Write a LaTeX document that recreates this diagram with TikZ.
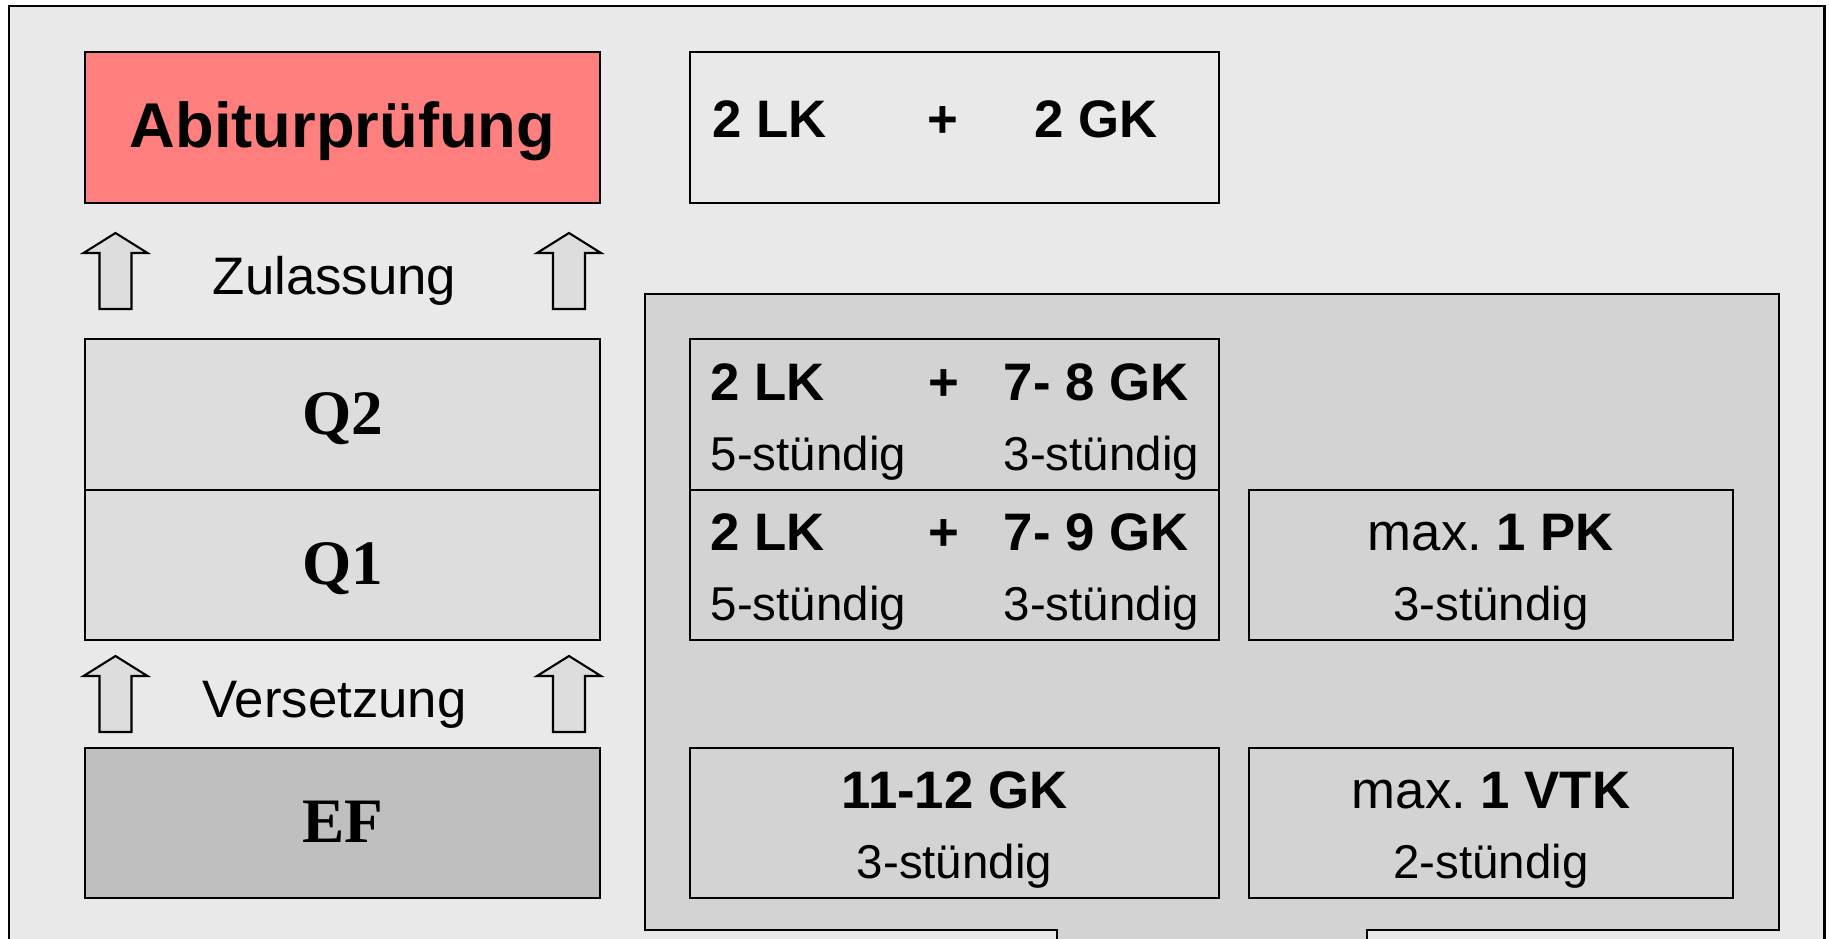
\documentclass[tikz,border=0pt]{standalone}
\usepackage{fontspec}
\setmainfont{Liberation Sans}
\newfontfamily\qschrift{Liberation Serif}

\definecolor{hintergrund}{HTML}{E9E9E9}
\definecolor{feld}{HTML}{D3D3D3}
\definecolor{lachs}{HTML}{FF7F7F}
\definecolor{hellgrau}{HTML}{DDDDDD}
\definecolor{dunkelgrau}{HTML}{BFBFBF}

\newcommand\titelschrift{\fontsize{18}{21}\selectfont\bfseries}
\newcommand\kursschrift{\fontsize{15}{18}\selectfont}
\newcommand\stundenschrift{\fontsize{13.5}{16}\selectfont}

\tikzset{
    hochpfeil/.pic = {
        \draw [line width = 0.6pt, fill = hellgrau]
            (-16,0) -- (-16,-56) -- (-32,-56) -- (0,-76)
            -- (32,-56) -- (16,-56) -- (16,0) -- cycle;
    }
}

\begin{document}
\begin{tikzpicture}[x = 0.01cm, y = -0.01cm]
        \useasboundingbox (0,0) rectangle (1829,939);
        \clip (0,0) rectangle (1829,939);

        % Frame and the grey panel on the right.
        \draw [line width = 0.85pt, fill = hintergrund] (9,6) rectangle (1824,990);
        \draw [line width = 0.7pt, fill = feld]
            (645,294) -- (1779,294) -- (1779,930) -- (1367,930)
            -- (1367,990) -- (1057,990) -- (1057,930) -- (645,930) -- cycle;

        \begin{scope}[%
            every node/.style = {%
                draw,
                line width = 0.6pt,
                inner sep = 0pt,
                minimum height = 1.505cm,
                text height = 0.39cm,
                text depth = 0pt
            }
        ]

            % Stages on the left.
            \node [fill = lachs, minimum width = 5.15cm, font = \titelschrift]
                (abitur) at (342.5,127.5) {Abiturprüfung};
            \node [fill = hellgrau, minimum width = 5.15cm, font = \qschrift\titelschrift]
                (qzwei) at (342.5,414.5) {Q2};
            \node [fill = hellgrau, minimum width = 5.15cm, font = \qschrift\titelschrift]
                (qeins) at (342.5,565) {Q1};
            \node [fill = dunkelgrau, minimum width = 5.15cm, font = \qschrift\titelschrift]
                (ef) at (342.5,823) {EF};

            % Course boxes on the right.
            \node [fill = hintergrund, minimum width = 5.29cm] (pruefung) at (954.5,127.5) {};
            \node [fill = feld, minimum width = 5.29cm] (lkqzwei) at (954.5,414.5) {};
            \node [fill = feld, minimum width = 5.29cm] (lkqeins) at (954.5,565) {};
            \node [fill = feld, minimum width = 4.84cm] (pk) at (1491,565) {};
            \node [fill = feld, minimum width = 5.29cm] (gk) at (954.5,823) {};
            \node [fill = feld, minimum width = 4.84cm] (vtk) at (1491,823) {};
        \end{scope}

        % Arrows between the stages.
        \pic at (115.5,309) {hochpfeil};
        \pic at (569,309) {hochpfeil};
        \pic at (115.5,732) {hochpfeil};
        \pic at (569,732) {hochpfeil};

        \begin{scope}[%
            every node/.style = {%
                inner sep = 0pt,
                font = \kursschrift
            }
        ]

            % Labels next to the arrows.
            \node [anchor = base] (zulassung) at (334.5,294) {Zulassung};
            \node [anchor = base] (versetzung) at (334.5,717) {Versetzung};

            % Texts in the course boxes.
            \node [anchor = base west, font = \kursschrift\bfseries] (lkoben) at (712,137) {2 LK};
            \node [anchor = base, font = \kursschrift\bfseries] (plusoben) at (943,137) {+};
            \node [anchor = base west, font = \kursschrift\bfseries] (gkoben) at (1034,137) {2 GK};

            \node [anchor = base west, font = \kursschrift\bfseries] (lkzwei) at (710,400) {2 LK};
            \node [anchor = base, font = \kursschrift\bfseries] (pluszwei) at (944,400) {+};
            \node [anchor = base west, font = \kursschrift\bfseries] (gkzwei) at (1003,400) {7- 8 GK};
            \node [anchor = base west, font = \stundenschrift] (lkstdzwei) at (710,470) {5-stündig};
            \node [anchor = base west, font = \stundenschrift] (gkstdzwei) at (1003,470) {3-stündig};

            \node [anchor = base west, font = \kursschrift\bfseries] (lkeins) at (710,550) {2 LK};
            \node [anchor = base, font = \kursschrift\bfseries] (pluseins) at (944,550) {+};
            \node [anchor = base west, font = \kursschrift\bfseries] (gkeins) at (1003,550) {7- 9 GK};
            \node [anchor = base west, font = \stundenschrift] (lkstdeins) at (710,620) {5-stündig};
            \node [anchor = base west, font = \stundenschrift] (gkstdeins) at (1003,620) {3-stündig};

            \node [anchor = base] (pktext) at (1491,550) {max.\ \textbf{1 PK}};
            \node [anchor = base, font = \stundenschrift] (pkstd) at (1491,620) {3-stündig};

            \node [anchor = base, font = \kursschrift\bfseries] (gktext) at (954.5,808) {11-12 GK};
            \node [anchor = base, font = \stundenschrift] (gkstd) at (954.5,878) {3-stündig};
            \node [anchor = base] (vtktext) at (1491,808) {max.\ \textbf{1 VTK}};
            \node [anchor = base, font = \stundenschrift] (vtkstd) at (1491,878) {2-stündig};
        \end{scope}
    \end{tikzpicture}
\end{document}
